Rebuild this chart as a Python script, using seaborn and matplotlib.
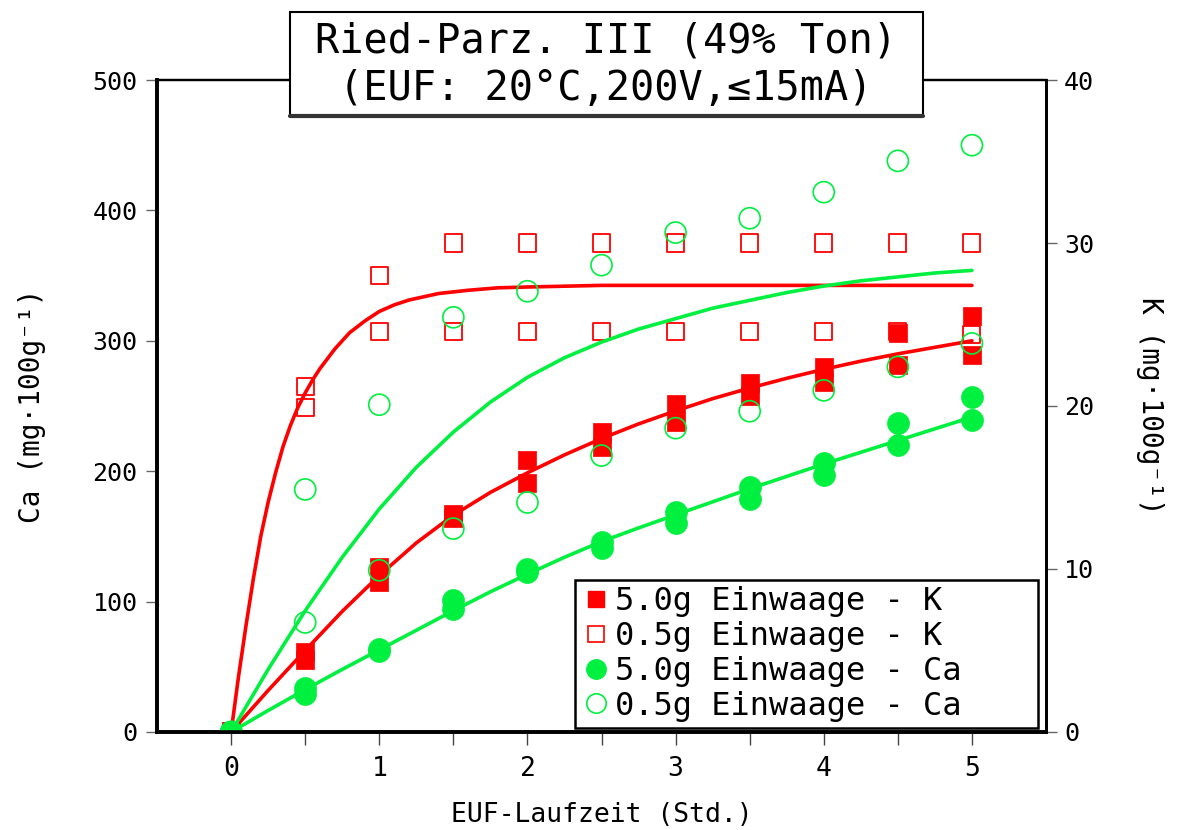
import matplotlib
matplotlib.use("Agg")
import matplotlib.pyplot as plt
import seaborn as sns
from matplotlib.lines import Line2D
from matplotlib.patches import Rectangle

# measured points (two replicates per time step)
t = [0, 0.5, 1.0, 1.5, 2.0, 2.5, 3.0, 3.5, 4.0, 4.5, 5.0]
k50_a = [0, 4.9, 10.1, 13.4, 16.7, 18.4, 20.1, 21.4, 22.4, 24.5, 25.5]
k50_b = [0, 4.4, 9.2, 13.1, 15.3, 17.5, 19.0, 20.6, 21.5, 22.5, 23.1]
k05_a = [0, 21.2, 28.0, 30.0, 30.0, 30.0, 30.0, 30.0, 30.0, 30.0, 30.0]
k05_b = [0, 19.9, 24.6, 24.6, 24.6, 24.6, 24.6, 24.6, 24.6, 24.6, 24.4]
ca50_a = [0, 34, 64, 101, 125, 146, 169, 188, 206, 237, 257]
ca50_b = [0, 29, 62, 94, 123, 141, 160, 179, 197, 220, 239]
ca05_a = [0, 186, 251, 318, 338, 358, 383, 394, 414, 438, 450]
ca05_b = [0, 84, 124, 156, 176, 212, 233, 246, 262, 280, 298]

# fitted curves
t_fine = [0, 0.05, 0.1, 0.15, 0.2, 0.25, 0.3, 0.35, 0.4, 0.45, 0.5, 0.55, 0.6,
          0.65, 0.7, 0.8, 0.9, 1.0, 1.1, 1.2, 1.4, 1.6, 1.8, 2.0, 2.5, 3.0,
          3.5, 4.0, 4.5, 5.0]
k05_fit = [0, 3.4, 6.5, 9.4, 12.0, 14.1, 15.9, 17.5, 18.8, 19.9, 20.8, 21.6, 22.3,
           22.9, 23.5, 24.5, 25.2, 25.8, 26.2, 26.5, 26.9, 27.1, 27.25, 27.3, 27.4,
           27.4, 27.4, 27.4, 27.4, 27.4]
t_q = [0, 0.25, 0.5, 0.75, 1.0, 1.25, 1.5, 1.75, 2.0, 2.25, 2.5, 2.75, 3.0,
       3.25, 3.5, 3.75, 4.0, 4.25, 4.5, 4.75, 5.0]
k50_fit = [0, 2.55, 5.0, 7.4, 9.6, 11.6, 13.3, 14.7, 15.9, 17.0, 18.0, 18.9, 19.7,
           20.45, 21.1, 21.7, 22.25, 22.75, 23.2, 23.6, 24.0]
ca05_fit = [0, 48, 93, 134, 171, 203, 230, 253, 272, 287, 299, 309, 317,
            325, 331, 337, 342, 346, 349, 352, 354]
ca50_fit = [0, 16.5, 32.5, 48, 63, 78, 93, 107.5, 121, 134, 146, 156.5, 166.5,
            176.5, 186.5, 196, 205.5, 214.5, 223.5, 232.5, 241.5]

labels = ["5.0g Einwaage - K", "0.5g Einwaage - K",
          "5.0g Einwaage - Ca", "0.5g Einwaage - Ca"]

RED = "#ff0000"
GREEN = "#00f040"

sns.set_theme(style="white")
plt.rcParams["font.family"] = ["DejaVu Sans Mono", "DejaVu Sans"]
plt.rcParams["text.color"] = "black"
plt.rcParams["axes.labelcolor"] = "black"

fig = plt.figure(figsize=(11.79, 8.30), dpi=100)
ax = fig.add_axes([0.1332, 0.1181, 0.754, 0.7855])
ax2 = ax.twinx()
ax.set_zorder(ax2.get_zorder() + 1)
ax.patch.set_visible(False)

# K on right axis (drawn below)
sns.lineplot(x=t_fine, y=k05_fit, ax=ax2, color=RED, lw=2.6, legend=False)
sns.lineplot(x=t_q, y=k50_fit, ax=ax2, color=RED, lw=2.6, legend=False)
sns.scatterplot(x=t + t, y=k05_a + k05_b, ax=ax2, marker="s", s=150,
                facecolor="none", edgecolor=RED, linewidth=1.3, legend=False)
sns.scatterplot(x=t + t, y=k50_a + k50_b, ax=ax2, marker="s", s=170,
                color=RED, edgecolor=RED, linewidth=0.5, legend=False)

# Ca on left axis
sns.lineplot(x=t_q, y=ca05_fit, ax=ax, color=GREEN, lw=2.6, legend=False)
sns.lineplot(x=t_q, y=ca50_fit, ax=ax, color=GREEN, lw=2.6, legend=False)
sns.scatterplot(x=t + t, y=ca05_a + ca05_b, ax=ax, marker="o", s=230,
                facecolor="none", edgecolor=GREEN, linewidth=1.2, legend=False)
sns.scatterplot(x=t + t, y=ca50_a + ca50_b, ax=ax, marker="o", s=250,
                color=GREEN, edgecolor=GREEN, linewidth=0.5, legend=False)

ax.set_xlim(-0.5, 5.5)
ax.set_ylim(0, 500)
ax2.set_ylim(0, 40)
ax.set_xticks([0, 1, 2, 3, 4, 5])
ax.set_xticks([0.5, 1.5, 2.5, 3.5, 4.5], minor=True)
ax.set_yticks([0, 100, 200, 300, 400, 500])
ax2.set_yticks([0, 10, 20, 30, 40])

ax.tick_params(axis="x", which="both", bottom=True, direction="out", length=9,
               width=1, color="#444444", labelcolor="black", labelsize=19, pad=8)
ax.tick_params(axis="y", left=True, right=False, direction="out", length=8,
               width=1, color="#666666", labelcolor="black", labelsize=18, pad=6)
ax2.tick_params(axis="y", right=True, direction="out", length=8,
                width=1, color="#666666", labelcolor="black", labelsize=18, pad=5)

for a in (ax, ax2):
    for side, lw in (("left", 2.6), ("bottom", 2.6), ("right", 2.0), ("top", 1.6)):
        a.spines[side].set_color("black")
        a.spines[side].set_linewidth(lw)

ax.set_xlabel("EUF-Laufzeit (Std.)", fontsize=19)
ax.xaxis.set_label_coords(0.5, -0.108)
ax.set_ylabel("Ca (mg·100g⁻¹)", fontsize=20)
ax.yaxis.set_label_coords(-0.125, 0.5)
ax2.set_ylabel("K (mg·100g⁻¹)", fontsize=20, rotation=-90, va="center")
ax2.yaxis.set_label_coords(1.117, 0.5)

handles = [
    Line2D([], [], ls="none", marker="s", ms=12, color=RED, mec=RED),
    Line2D([], [], ls="none", marker="s", ms=11, mfc="none", mec=RED, mew=1.2),
    Line2D([], [], ls="none", marker="o", ms=14, color=GREEN, mec=GREEN),
    Line2D([], [], ls="none", marker="o", ms=14, mfc="none", mec=GREEN, mew=1.2),
]
leg = ax.legend(handles, labels, loc="lower left",
                bbox_to_anchor=(0.470, 0.006, 0.521, 0.23), mode="expand",
                fontsize=23, frameon=True, fancybox=False, edgecolor="black",
                handlelength=0.9, handletextpad=0.15, labelspacing=0.12,
                borderpad=0.2, borderaxespad=0)
leg.get_frame().set_linewidth(1.8)
leg.get_frame().set_alpha(1)

# title box
fig.patches.append(Rectangle((290 / 1179, 1 - 116 / 830), 633 / 1179, 104 / 830,
                             transform=fig.transFigure, facecolor="white",
                             edgecolor="black", lw=1.5, zorder=5))
fig.lines.append(Line2D([290 / 1179, 923 / 1179], [1 - 116 / 830, 1 - 116 / 830],
                        transform=fig.transFigure, color="#333333", lw=3, zorder=6))
fig.text(606 / 1179, 1 - 41 / 830, "Ried-Parz. III (49% Ton)", ha="center",
         va="center", fontsize=29, zorder=7)
fig.text(606 / 1179, 1 - 89 / 830, "(EUF: 20°C,200V,≤15mA)", ha="center",
         va="center", fontsize=29, zorder=7)

fig.savefig("out.png", dpi=100)
